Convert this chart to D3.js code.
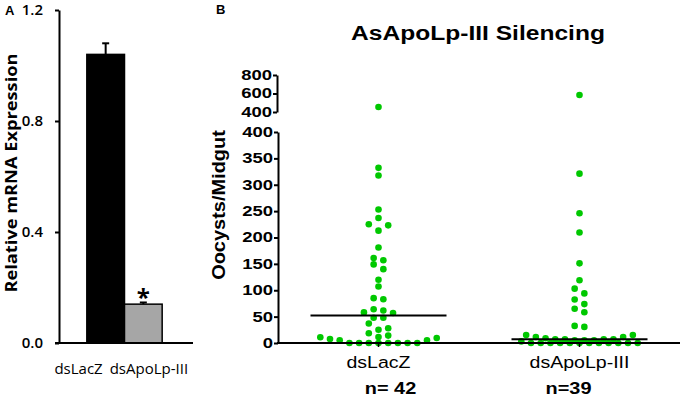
<!DOCTYPE html>
<html lang="en">
<head>
<meta charset="UTF-8">
<title>AsApoLp-III Silencing</title>
<style>
  body { margin: 0; background: #fff; }
  svg { display: block; }
</style>
</head>
<body>
<svg id="chart" width="680" height="397"></svg>
<script src="https://d3js.org/d3.v7.min.js"></script>
<script>
// Panel A - relative mRNA expression
const barCategories = ["dsLacZ", "dsApoLp-III"];
const barValues = [1.04, 0.14];
const barErrors = [0.04, 0.006];
const barTicks = [0, 0.4, 0.8, 1.2];

// Panel B - oocysts per midgut
const dotCategories = ["dsLacZ", "dsApoLp-III"];
const lacZ = [454, 332, 317.5, 253, 237, 225, 223, 213, 181, 161, 157, 149, 140, 120, 107,
  85, 83, 64, 61.5, 58, 57, 48, 48, 37, 28, 25, 18.5, 14, 11, 11.4, 9.5, 7.6, 5, 5,
  0, 0, 0, 0, 0, 0, 0, 0];
const apoLp = [584, 321, 246, 209.5, 151, 119, 103, 94, 82.5, 73.7, 64.8, 58.4, 32.4, 30.5,
  15, 11.4, 9, 7, 5, 5, 5, 7, 7, 7, 11.4, 15,
  3, 0, 0, 0, 0, 0, 0, 0, 0, 0, 0, 0, 0];
const medians = [52, 7];
const counts = ["n= 42", "n=39"];
const lowTicks = [0, 50, 100, 150, 200, 250, 300, 350, 400];
const highTicks = [400, 600, 800];

const svg = d3.select("#chart");
const green = "#00c800";

// text with a horizontal stretch (the original fonts are wider than Arial)
function label(g, x, y, str, o) {
  const sx = o.sx || 1;
  const rot = o.rotate ? `rotate(${o.rotate})` : "";
  return g.append("text")
    .attr("transform", `translate(${x},${y}) ${rot} scale(${sx},1)`)
    .attr("text-anchor", o.anchor || "middle")
    .attr("font-family", o.font || "Liberation Sans, Arial, sans-serif")
    .attr("font-size", o.size)
    .attr("font-weight", o.weight || "normal")
    .text(str);
}

// ---------- Panel A ----------
const gA = svg.append("g");
const yA = d3.scaleLinear().domain([0, 1.2]).range([343, 10]);
const xA = d3.scaleBand().domain(barCategories).range([68, 181])
  .paddingInner(0).paddingOuter(0.5);

gA.selectAll(".bar")
  .data(barCategories)
  .enter().append("rect")
  .attr("x", d => xA(d))
  .attr("y", (d, i) => yA(barValues[i]))
  .attr("width", xA.bandwidth())
  .attr("height", (d, i) => yA(0) - yA(barValues[i]))
  .attr("fill", (d, i) => i === 0 ? "#000" : "#a6a6a6")
  .attr("stroke", "#000")
  .attr("stroke-width", 1.5);

// upper error bars
barCategories.forEach((d, i) => {
  const cx = xA(d) + xA.bandwidth() / 2;
  const top = yA(barValues[i] + barErrors[i]);
  gA.append("line").attr("x1", cx).attr("x2", cx)
    .attr("y1", yA(barValues[i])).attr("y2", top)
    .attr("stroke", "#000").attr("stroke-width", 2);
  gA.append("line").attr("x1", cx - 3.5).attr("x2", cx + 3.5)
    .attr("y1", top).attr("y2", top)
    .attr("stroke", "#000").attr("stroke-width", 2);
});

// significance star
label(gA, xA("dsApoLp-III") + xA.bandwidth() / 2, yA(barValues[1] + barErrors[1]) + 3.5, "*",
  { size: 24, weight: "bold", font: "Open Sans, sans-serif" });

const axA = gA.append("g")
  .attr("transform", "translate(59,0)")
  .call(d3.axisLeft(yA).tickValues(barTicks).tickFormat(d3.format(".1f"))
    .tickSize(4).tickSizeOuter(0).tickPadding(12));
axA.select(".domain").attr("stroke-width", 2);
axA.selectAll(".tick line").attr("stroke-width", 2);
axA.selectAll("text").attr("font-family", "Open Sans, sans-serif").attr("font-size", 15)
  .attr("font-weight", 600);

gA.append("line").attr("x1", 55).attr("x2", 193).attr("y1", yA(0)).attr("y2", yA(0))
  .attr("stroke", "#000").attr("stroke-width", 2);

// category labels flank the centre of the first bar
const midA = xA("dsLacZ") + xA.bandwidth() / 2;
label(gA, midA - 3, 374, barCategories[0], { size: 15, anchor: "end", font: "Open Sans, sans-serif" });
label(gA, midA + 4, 374, barCategories[1], { size: 15, anchor: "start", font: "Open Sans, sans-serif" });

label(gA, 17, 173, "Relative mRNA Expression",
  { size: 16, weight: "bold", rotate: -90, sx: 1.14, font: "Open Sans, sans-serif" });
label(gA, 5, 15, "A", { size: 13, weight: "bold", anchor: "start" });

// ---------- Panel B ----------
const gB = svg.append("g");
const yLow = d3.scaleLinear().domain([0, 400]).range([343, 132]);
const yHigh = d3.scaleLinear().domain([400, 800]).range([112, 75]);
const xB = d3.scaleBand().domain(dotCategories).range([278, 680]);
const cB = d => xB(d) + xB.bandwidth() / 2;
const yOf = v => v > 400 ? yHigh(v) : yLow(v);

// column scatter in rows: a row takes the dots lying within one dot height
// of its lowest dot (at most 13 per row), spread centre-out at a fixed pitch
function rows(values, rowH, pitch, maxPerRow) {
  const pts = values.map(v => ({ v, y: yOf(v) })).sort((a, b) => b.y - a.y);
  const out = [];
  let i = 0;
  while (i < pts.length) {
    const row = [pts[i]];
    let j = i + 1;
    while (j < pts.length && row.length < maxPerRow && pts[i].y - pts[j].y < rowH) row.push(pts[j++]);
    const n = row.length;
    const slots = d3.range(n).map(k => k - (n - 1) / 2)
      .sort((a, b) => Math.abs(a) - Math.abs(b) || b - a);
    row.forEach((p, k) => { p.dx = slots[k] * pitch; out.push(p); });
    i = j;
  }
  return out;
}

const groups = [lacZ, apoLp];
dotCategories.forEach((cat, i) => {
  const pts = rows(groups[i], 6.6, 9.7, 13);
  gB.append("g").selectAll("circle")
    .data(pts)
    .enter().append("circle")
    .attr("cx", d => cB(cat) + d.dx)
    .attr("cy", d => d.y)
    .attr("r", 3.3)
    .attr("fill", green);
  gB.append("line")
    .attr("x1", cB(cat) - 68).attr("x2", cB(cat) + 68)
    .attr("y1", yLow(medians[i])).attr("y2", yLow(medians[i]))
    .attr("stroke", "#000").attr("stroke-width", 2);
});

function styleAxis(ax) {
  ax.select(".domain").attr("stroke-width", 2);
  ax.selectAll(".tick line").attr("stroke-width", 2);
  ax.selectAll("text")
    .attr("font-family", "Liberation Sans, Arial, sans-serif")
    .attr("font-weight", "bold").attr("font-size", 14)
    .attr("x", -5 / 1.32).attr("transform", "scale(1.32,1)");
}
const axLow = gB.append("g").attr("transform", "translate(278,0)")
  .call(d3.axisLeft(yLow).tickValues(lowTicks).tickSize(4).tickSizeOuter(0));
styleAxis(axLow);
const axHigh = gB.append("g").attr("transform", "translate(277,0)")
  .call(d3.axisLeft(yHigh).tickValues(highTicks).tickSize(4).tickSizeOuter(0));
styleAxis(axHigh);

gB.append("line").attr("x1", 277).attr("x2", 680).attr("y1", yLow(0)).attr("y2", yLow(0))
  .attr("stroke", "#000").attr("stroke-width", 2);
gB.selectAll(".xtick").data(dotCategories).enter().append("line")
  .attr("x1", d => cB(d)).attr("x2", d => cB(d))
  .attr("y1", yLow(0)).attr("y2", yLow(0) + 4)
  .attr("stroke", "#000").attr("stroke-width", 1.5);

dotCategories.forEach((cat, i) => {
  label(gB, cB(cat), 368, cat, { size: 17, sx: 1.15 });
  label(gB, cB(cat) + (i === 0 ? 12 : -11), 394, counts[i], { size: 17, weight: "bold", sx: 1.17 });
});

label(gB, 478, 40, "AsApoLp-III Silencing", { size: 21, weight: "bold", sx: 1.17 });
label(gB, 225, 205, "Oocysts/Midgut", { size: 18, weight: "bold", rotate: -90, sx: 1.11 });
label(gB, 216, 14, "B", { size: 13, weight: "bold", anchor: "start" });
</script>
</body>
</html>
